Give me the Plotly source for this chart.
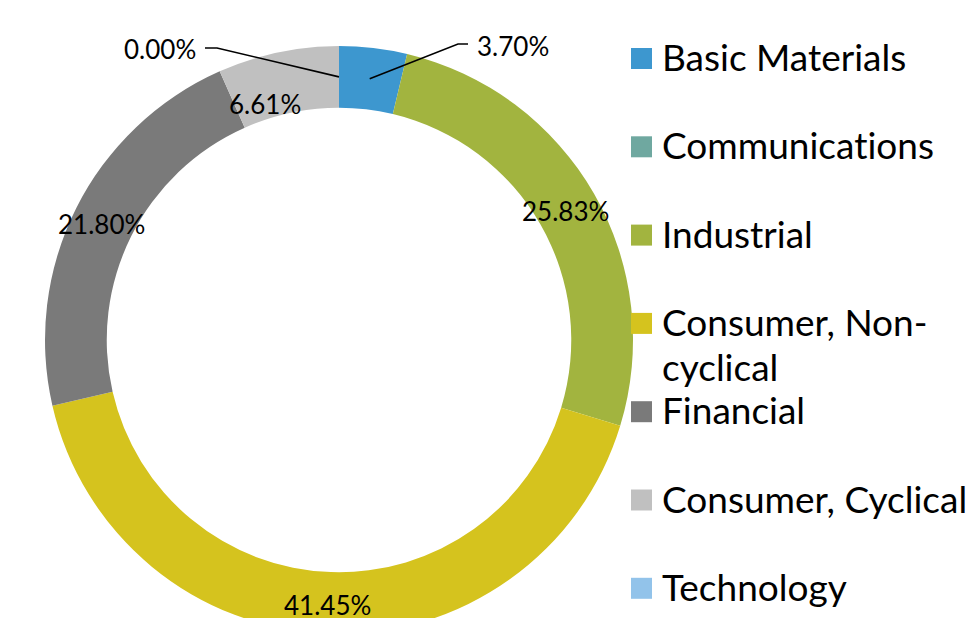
import math
import plotly.graph_objects as go

# ---- data ----
categories = ["Basic Materials", "Communications", "Industrial",
              "Consumer, Non-cyclical", "Financial", "Consumer, Cyclical", "Technology"]
legend_labels = ["Basic Materials", "Communications", "Industrial",
                 "Consumer, Non-<br>cyclical", "Financial", "Consumer, Cyclical", "Technology"]
weights = [3.70, 0.00, 25.83, 41.45, 21.80, 6.61, 0.00]
colors = ["#3D97CF", "#6FA8A0", "#A2B43F", "#D5C31E", "#7A7A7A", "#C0C0C0", "#92C3EA"]

W, H = 975, 640
OFF = 8  # page body margin
CX, CY, R, HOLE = 339, 340, 294, 0.79


def px(x):
    return (x - OFF) / W


def py(y):
    return 1 - (y - OFF) / H


fig = go.Figure()
fig.add_trace(go.Pie(
    labels=categories, values=weights, marker=dict(colors=colors, line=dict(width=0)),
    hole=HOLE, sort=False, direction="clockwise", rotation=0,
    textinfo="none", showlegend=False, hoverinfo="label+percent",
    domain=dict(x=[px(CX - R), px(CX + R)], y=[py(CY + R), py(CY - R)]),
))

total = sum(weights)
rmid = R * (1 + HOLE) / 2
annotations = []
shapes = []
cum = 0.0
for i, (cat, v) in enumerate(zip(categories, weights)):
    mid = (cum + v / 2) / total * 2 * math.pi
    cum += v
    mx = CX + rmid * math.sin(mid)
    my = CY - rmid * math.cos(mid)
    label = f"{v:.2f}%"
    if cat == "Basic Materials":
        shapes.append(dict(type="path", xref="paper", yref="paper",
                           path=f"M {px(mx)} {py(my)} L {px(458)} {py(44)} L {px(468)} {py(44)}",
                           line=dict(color="black", width=1.6)))
        annotations.append(dict(x=px(475), y=py(46), text=label, xanchor="left", yanchor="middle"))
    elif cat == "Technology":
        shapes.append(dict(type="path", xref="paper", yref="paper",
                           path=f"M {px(mx)} {py(my)} L {px(217)} {py(48)} L {px(205)} {py(48)}",
                           line=dict(color="black", width=1.6)))
        annotations.append(dict(x=px(198), y=py(49), text=label, xanchor="right", yanchor="middle"))
    elif cat == "Communications":
        pass
    elif cat == "Consumer, Cyclical":
        annotations.append(dict(x=px(265), y=py(104), text=label, xanchor="center", yanchor="middle"))
    else:
        annotations.append(dict(x=px(mx - 2), y=py(my + 2), text=label, xanchor="center", yanchor="middle"))

for a in annotations:
    a.update(xref="paper", yref="paper", showarrow=False,
             font=dict(family="Lato", size=26, color="black"))

# legend (manual, to match spacing)
for i, (lab, c) in enumerate(zip(legend_labels, colors)):
    top = 48 + i * 88.3
    shapes.append(dict(type="rect", xref="paper", yref="paper",
                       x0=px(631), x1=px(652), y0=py(top), y1=py(top + 21),
                       fillcolor=c, line=dict(width=0)))
    for j, line in enumerate(lab.split("<br>")):
        annotations.append(dict(xref="paper", yref="paper", showarrow=False,
                                x=px(660), y=py(top - 16 + j * 45), xanchor="left", yanchor="top",
                                align="left",
                                text=f'<span style="font-variant-ligatures:none">{line}</span>',
                                font=dict(family="Lato", size=37, color="black")))

fig.update_layout(width=W, height=H, margin=dict(l=0, r=0, t=0, b=0),
                  paper_bgcolor="white", plot_bgcolor="white",
                  shapes=shapes, annotations=annotations)
fig.write_html("out.html")
